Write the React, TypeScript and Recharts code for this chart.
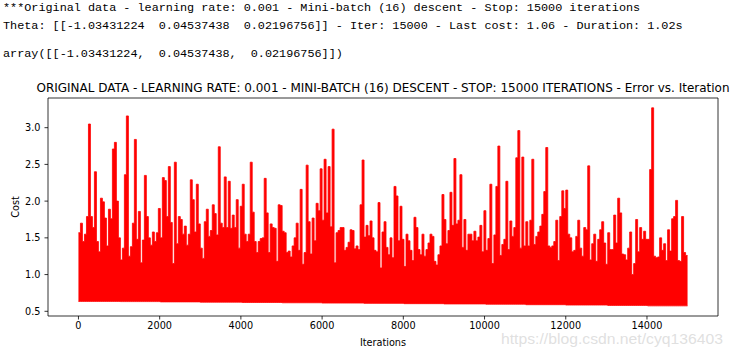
import React from "react";
import { AreaChart, Area, XAxis, YAxis, ReferenceLine } from "recharts";

// highest cost reached in each bin of ~49 iterations
const costHighA = [
  1.57, 1.7, 1.45, 1.55, 1.79, 3.05, 1.79, 1.64, 2.4, 1.45,
  1.31, 2.04, 1.99, 1.77, 1.39, 1.89, 1.76, 2.71, 2.8, 2.0,
  1.5, 1.2, 1.36, 2.36, 3.16, 1.25, 1.38, 1.7, 2.84, 1.48,
  1.86, 1.16, 1.47, 2.35, 1.79, 1.5, 1.4, 1.58, 1.45, 1.57,
  1.9, 1.5, 2.32, 2.28, 1.79, 2.47, 1.71, 1.15, 2.53, 1.42,
  1.79,
];
const costHighB = [
  1.75, 1.55, 1.66, 1.4, 1.55, 2.29, 2.02, 1.58, 2.23, 1.69,
  1.36, 1.22, 1.72, 1.89, 1.52, 1.6, 1.95, 1.83, 1.54, 2.74,
  1.7, 1.64, 2.33, 1.64, 2.27, 1.63, 1.81, 1.64, 2.02, 1.36,
  1.93, 2.23, 1.55, 1.45, 1.55, 2.53, 1.85, 1.45, 1.3, 1.45,
  1.49, 1.5, 2.31, 1.84, 1.3, 1.69, 1.64, 1.63, 1.18, 1.95,
  1.94,
];
const costHighC = [
  1.59, 1.57, 1.3, 1.32, 1.24, 1.39, 1.5, 1.7, 1.33, 2.16,
  1.14, 1.3, 2.49, 1.72, 1.28, 1.77, 1.46, 1.97, 1.87, 2.44,
  1.74, 2.57, 1.84, 2.47, 1.65, 2.98, 1.16, 1.57, 1.6, 1.64,
  1.64, 1.33, 1.37, 1.44, 1.61, 1.6, 1.35, 1.39, 1.34, 1.95,
  2.56, 1.51, 1.67, 1.53, 1.73, 1.5, 1.33, 1.31, 1.98, 1.09,
  1.58,
];
const costHighD = [
  1.72, 1.37, 1.27, 1.5, 1.23, 2.2, 2.07, 1.46, 1.93, 1.48,
  1.11, 1.55, 1.46, 1.33, 1.19, 1.78, 1.64, 1.34, 1.27, 1.55,
  1.25, 1.34, 1.43, 1.55, 1.52, 1.18, 1.13, 1.27, 1.39, 2.09,
  1.75, 1.42, 1.6, 2.12, 1.67, 2.58, 1.69, 1.74, 2.36, 1.37,
  1.75, 1.33, 1.55, 1.55, 1.46, 1.59, 1.46, 1.51, 1.67, 1.31,
  1.87,
];
const costHighE = [
  1.33, 1.49, 2.23, 1.15, 1.54, 2.2, 2.75, 1.26, 1.41, 1.48,
  2.27, 1.34, 1.73, 1.52, 1.64, 2.59, 2.96, 1.36, 2.6, 1.39,
  1.72, 1.39, 1.74, 2.57, 1.41, 1.52, 1.58, 1.66, 1.82, 2.13,
  2.73, 1.39, 1.37, 1.39, 1.45, 1.74, 1.19, 1.79, 2.14, 1.9,
  2.15, 1.55, 1.5, 1.31, 1.33, 1.52, 1.74, 1.36, 1.25, 1.64,
  1.61,
];
const costHighF = [
  2.48, 1.2, 1.42, 1.55, 1.18, 1.48, 1.61, 1.72, 1.43, 1.14,
  1.57, 1.34, 1.34, 1.81, 1.43, 2.04, 1.84, 1.28, 1.27, 1.2,
  1.36, 1.58, 1.0, 1.15, 1.75, 1.31, 1.64, 1.48, 1.59, 1.48,
  1.48, 2.43, 3.27, 1.25, 1.23, 1.24, 1.5, 1.33, 1.42, 1.19,
  1.61, 1.32, 1.76, 1.79, 2.01, 1.19, 1.18, 1.79, 1.3, 1.26,
];

// lowest cost in each block of 1000 iterations
const costLow = [
  0.635, 0.632, 0.628, 0.624, 0.62, 0.616, 0.612, 0.608,
  0.604, 0.6, 0.596, 0.59, 0.585, 0.58, 0.574,
];

const totalIters = 15000;
const xTicks = [0, 2000, 4000, 6000, 8000, 10000, 12000, 14000];
const yTicks = [0.5, 1.0, 1.5, 2.0, 2.5, 3.0];

const headerLines = [
  "***Original data - learning rate: 0.001 - Mini-batch (16) descent - Stop: 15000 iterations",
  "Theta: [[-1.03431224  0.04537438  0.02196756]] - Iter: 15000 - Last cost: 1.06 - Duration: 1.02s",
  "array([[-1.03431224,  0.04537438,  0.02196756]])",
];
const title =
  "ORIGINAL DATA - LEARNING RATE: 0.001 - MINI-BATCH (16) DESCENT - STOP: 15000 ITERATIONS - Error vs. Iteration";

const buildData = () => {
  const highs = [...costHighA, ...costHighB, ...costHighC, ...costHighD, ...costHighE, ...costHighF];
  const step = totalIters / highs.length;
  const rows = highs.map((h, i) => {
    const it = Math.round(i * step);
    const low = costLow[Math.min(costLow.length - 1, Math.floor(it / 1000))];
    return { it, range: [low, h] };
  });
  const last = rows[rows.length - 1];
  rows.push({ it: totalIters - 1, range: last.range });
  return rows;
};

const axisFont = { fontSize: 9.7, fill: "#000", fontFamily: "DejaVu Sans" };

const App = () => {
  const data = buildData();

  return (
    <div
      style={{
        position: "absolute",
        left: 0,
        top: 0,
        width: 733,
        height: 354,
        background: "#fff",
        overflow: "hidden",
      }}
    >
      {headerLines.map((line, i) => (
        <div
          key={i}
          style={{
            position: "absolute",
            left: 3,
            top: [1, 19, 47][i],
            fontFamily: "Liberation Mono, DejaVu Sans Mono, monospace",
            fontSize: 11.8,
            lineHeight: "14px",
            whiteSpace: "pre",
            color: "#000",
          }}
        >
          {line}
        </div>
      ))}

      <div style={{ position: "absolute", left: 0, top: 0 }}>
        <AreaChart
          width={733}
          height={354}
          data={data}
          margin={{ top: 98, right: 15, bottom: 0, left: 0 }}
        >
          <XAxis
            type="number"
            dataKey="it"
            domain={[-750, 15749]}
            ticks={xTicks}
            height={38}
            tick={axisFont}
            tickSize={3.5}
            tickMargin={3}
            tickLine={{ stroke: "#000", strokeWidth: 0.8 }}
            axisLine={{ stroke: "#000", strokeWidth: 0.8 }}
          />
          <YAxis
            type="number"
            domain={[0.436, 3.404]}
            ticks={yTicks}
            width={48}
            tick={axisFont}
            tickSize={3.5}
            tickMargin={4}
            tickFormatter={(v: number) => v.toFixed(1)}
            tickLine={{ stroke: "#000", strokeWidth: 0.8 }}
            axisLine={{ stroke: "#000", strokeWidth: 0.8 }}
          />
          <Area
            type="stepAfter"
            dataKey="range"
            stroke="#ff0000"
            strokeWidth={0.8}
            fill="#ff0000"
            fillOpacity={1}
            dot={false}
            activeDot={false}
            isAnimationActive={false}
          />
          <ReferenceLine y={3.404} stroke="#000" strokeWidth={0.8} />
          <ReferenceLine x={15749} stroke="#000" strokeWidth={0.8} />
        </AreaChart>
      </div>

      <svg
        width={733}
        height={354}
        style={{ position: "absolute", left: 0, top: 0, pointerEvents: "none" }}
      >
        <text
          x={383}
          y={92}
          textAnchor="middle"
          fontFamily="DejaVu Sans"
          fontSize={11.6}
          textLength={693}
          lengthAdjust="spacingAndGlyphs"
          fill="#000"
        >
          {title}
        </text>
        <text
          x={383}
          y={346}
          textAnchor="middle"
          fontFamily="DejaVu Sans"
          fontSize={9.7}
          fill="#000"
        >
          Iterations
        </text>
        <text
          x={18.5}
          y={207}
          textAnchor="middle"
          fontFamily="DejaVu Sans"
          fontSize={9.7}
          fill="#000"
          transform="rotate(-90 18.5 207)"
        >
          Cost
        </text>
        <text
          x={501}
          y={344}
          fontFamily="Liberation Sans, Arial, sans-serif"
          fontSize={14}
          textLength={222}
          lengthAdjust="spacingAndGlyphs"
          fill="#d8d8d8"
          fillOpacity={0.8}
        >
          https://blog.csdn.net/cyq136403
        </text>
      </svg>
    </div>
  );
};

export default App;
